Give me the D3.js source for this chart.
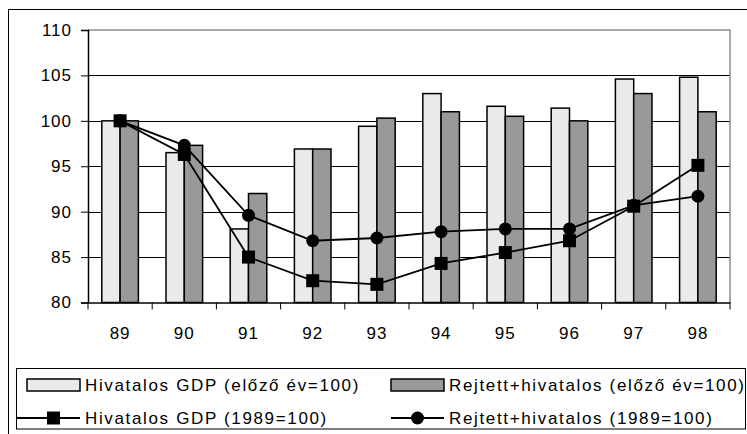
<!DOCTYPE html>
<html>
<head>
<meta charset="utf-8">
<script src="https://cdn.jsdelivr.net/npm/d3@7"></script>
<style>
  html, body { margin: 0; padding: 0; background: #fff; }
  svg { display: block; font-family: "Liberation Sans", Arial, sans-serif; }
</style>
</head>
<body>
<svg id="chart" width="747" height="434"></svg>
<script>
// Years on the category axis
const years = ["89", "90", "91", "92", "93", "94", "95", "96", "97", "98"];
// Year-on-year indices (previous year = 100)
const officialYoY = [100, 96.5, 88.1, 96.9, 99.4, 103.0, 101.6, 101.4, 104.6, 104.8];
const hiddenYoY   = [100, 97.3, 92.0, 96.9, 100.3, 101.0, 100.5, 100.0, 103.0, 101.0];
// Chained indices (1989 = 100)
const officialChain = [100, 96.3, 85.0, 82.4, 82.0, 84.3, 85.5, 86.8, 90.6, 95.1];
const hiddenChain   = [100, 97.3, 89.6, 86.8, 87.1, 87.8, 88.1, 88.1, 90.7, 91.7];
// Value axis ticks
const yTicks = [80, 85, 90, 95, 100, 105, 110];

const seriesNames = [
  "Hivatalos GDP (előző év=100)",
  "Rejtett+hivatalos (előző év=100)",
  "Hivatalos GDP (1989=100)",
  "Rejtett+hivatalos (1989=100)"
];

const svg = d3.select("#chart");
const plot = { left: 88, right: 730, top: 30, bottom: 302.5 };

const x = d3.scaleBand().domain(years).range([plot.left, plot.right]).paddingInner(0).paddingOuter(0);
const y = d3.scaleLinear().domain([80, 110]).range([plot.bottom, plot.top]);
const barW = x.bandwidth() * 0.285;
const mid = yr => x(yr) + x.bandwidth() / 2;

// Outer chart frame
svg.append("rect").attr("x", 8.5).attr("y", 9.5).attr("width", 760).attr("height", 440)
  .attr("fill", "none").attr("stroke", "#000").attr("stroke-width", 1);

// Horizontal gridlines
svg.append("g").selectAll("line").data(yTicks.filter(t => t > 80 && t < 110)).join("line")
  .attr("x1", plot.left).attr("x2", plot.right)
  .attr("y1", d => Math.round(y(d)) + 0.5).attr("y2", d => Math.round(y(d)) + 0.5)
  .attr("stroke", "#000").attr("stroke-width", 1);

// Plot area border (top and right)
svg.append("path")
  .attr("d", `M${plot.left},${y(110)}H${plot.right}V${plot.bottom}`)
  .attr("fill", "none").attr("stroke", "#8c8c8c").attr("stroke-width", 1.5);

// Bars
const bars = svg.append("g");
years.forEach((yr, i) => {
  bars.append("rect")
    .attr("x", mid(yr) - barW).attr("y", y(officialYoY[i]))
    .attr("width", barW).attr("height", y(80) - y(officialYoY[i]))
    .attr("fill", "#eaeaea").attr("stroke", "#000").attr("stroke-width", 1.5);
  bars.append("rect")
    .attr("x", mid(yr)).attr("y", y(hiddenYoY[i]))
    .attr("width", barW).attr("height", y(80) - y(hiddenYoY[i]))
    .attr("fill", "#999999").attr("stroke", "#000").attr("stroke-width", 1.5);
});

const tickText = sel => sel.attr("font-size", 17).attr("fill", "#000")
  .attr("font-family", "'Liberation Sans', Arial, sans-serif").attr("letter-spacing", "1px");

// Value axis
const yAxis = d3.axisLeft(y).tickValues(yTicks).tickSize(7).tickPadding(9).tickFormat(d3.format("d"));
const gy = svg.append("g").attr("transform", `translate(${plot.left},0)`).call(yAxis);
gy.select(".domain").attr("stroke", "#000").attr("stroke-width", 1.5);
gy.selectAll(".tick line").attr("stroke", "#000").attr("stroke-width", 1);
gy.selectAll(".tick text").call(tickText);

// Category axis
const xAxis = d3.axisBottom(x).tickSize(0).tickPadding(24);
const gx = svg.append("g").attr("transform", `translate(0,${plot.bottom})`).call(xAxis);
gx.select(".domain").attr("stroke", "#000").attr("stroke-width", 1.5);
gx.selectAll(".tick text").call(tickText);
// tick marks between categories
const bounds = years.map(yr => x(yr)).concat([plot.right]);
gx.append("g").selectAll("line").data(bounds).join("line")
  .attr("x1", d => d).attr("x2", d => d).attr("y1", 0).attr("y2", 7)
  .attr("stroke", "#000").attr("stroke-width", 1);

// Lines with markers
const line = d3.line().x((d, i) => mid(years[i])).y(d => y(d));
svg.append("path").datum(hiddenChain).attr("d", line)
  .attr("fill", "none").attr("stroke", "#000").attr("stroke-width", 1.8);
svg.append("path").datum(officialChain).attr("d", line)
  .attr("fill", "none").attr("stroke", "#000").attr("stroke-width", 1.8);

svg.append("g").selectAll("circle").data(hiddenChain).join("circle")
  .attr("cx", (d, i) => mid(years[i])).attr("cy", d => y(d))
  .attr("r", 6.5).attr("fill", "#000");
svg.append("g").selectAll("rect").data(officialChain).join("rect")
  .attr("x", (d, i) => mid(years[i]) - 6.5).attr("y", d => y(d) - 6.5)
  .attr("width", 13).attr("height", 13).attr("fill", "#000");

// Legend
const lg = svg.append("g");
lg.append("rect").attr("x", 16.5).attr("y", 368.5).attr("width", 729).attr("height", 60.5)
  .attr("fill", "#fff").attr("stroke", "#000").attr("stroke-width", 1);

const cols = [27, 391];
const rows = [385, 418];
const textStyle = sel => sel.attr("font-size", 17).attr("fill", "#000")
  .attr("dominant-baseline", "central").attr("letter-spacing", "1.65px");

// bar swatches
[["#eaeaea", 0], ["#999999", 1]].forEach(([fill, c]) => {
  lg.append("rect").attr("x", cols[c]).attr("y", rows[0] - 6).attr("width", 53).attr("height", 12)
    .attr("fill", fill).attr("stroke", "#000").attr("stroke-width", 1.5);
  lg.append("text").attr("x", cols[c] + 58).attr("y", rows[0]).text(seriesNames[c]).call(textStyle);
});
// line swatches
[0, 1].forEach(c => {
  const x0 = c === 0 ? 17 : cols[c], x1 = cols[c] + 53, cm = cols[c] + 26.5;
  lg.append("line").attr("x1", x0).attr("x2", x1).attr("y1", rows[1]).attr("y2", rows[1])
    .attr("stroke", "#000").attr("stroke-width", 1.8);
  if (c === 0) {
    lg.append("rect").attr("x", cm - 6.5).attr("y", rows[1] - 6.5).attr("width", 13).attr("height", 13).attr("fill", "#000");
  } else {
    lg.append("circle").attr("cx", cm).attr("cy", rows[1]).attr("r", 6.5).attr("fill", "#000");
  }
  lg.append("text").attr("x", cols[c] + 58).attr("y", rows[1]).text(seriesNames[c + 2]).call(textStyle);
});
</script>
</body>
</html>
